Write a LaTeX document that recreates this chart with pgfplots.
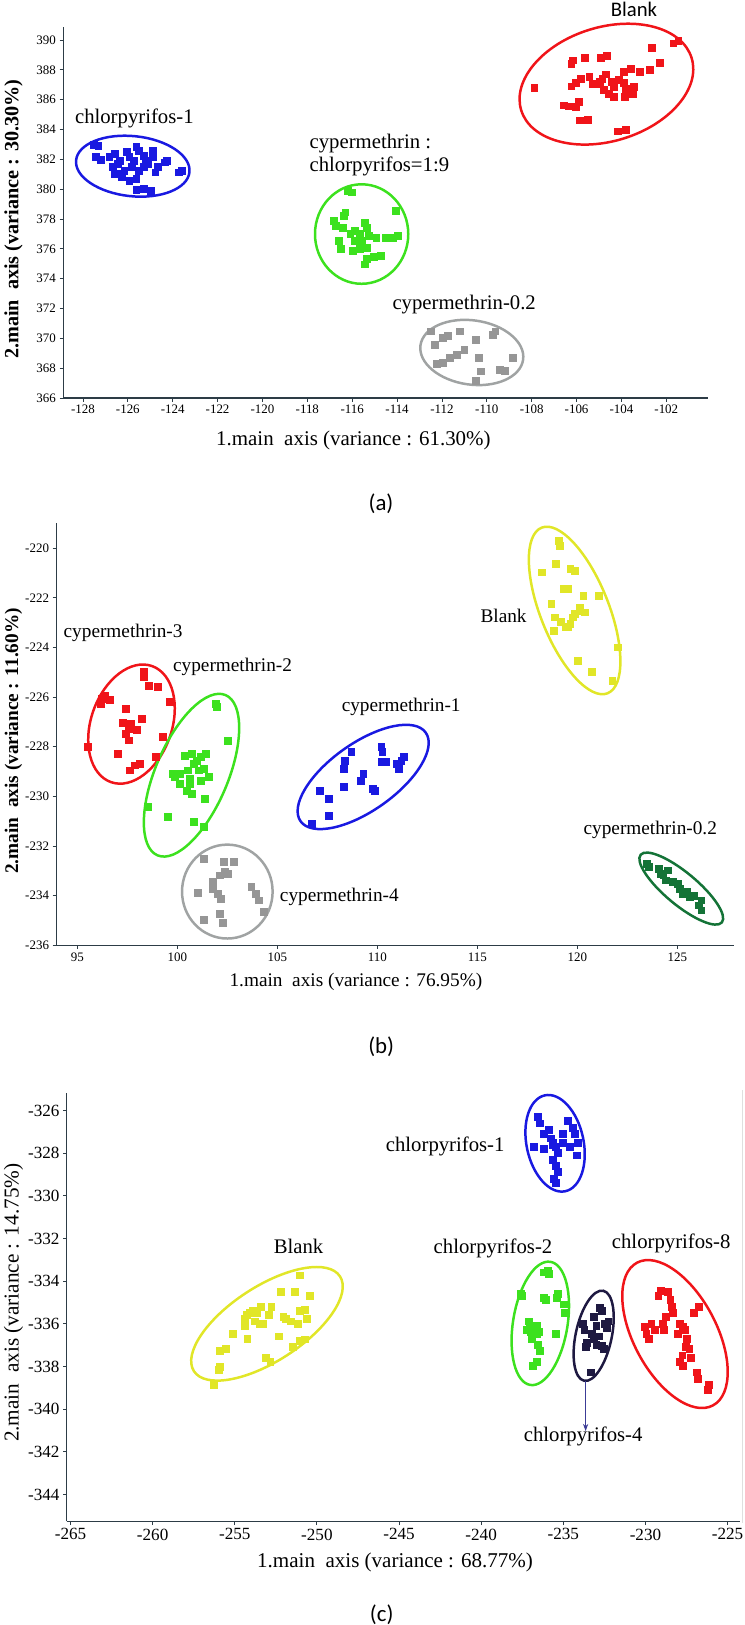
\documentclass[border=0pt]{standalone}
\usepackage{fontspec}
\setmainfont{Liberation Serif}
\newfontfamily\capfont{Carlito}
\usepackage{pgfplots}
\pgfplotsset{compat=1.18}
\usetikzlibrary{arrows.meta}

\newcommand{\fs}[1]{\fontsize{#1}{#1}\selectfont}

\definecolor{axiscol}{RGB}{45,60,70}
\definecolor{cBlue}{RGB}{25,25,225}
\definecolor{cRed}{RGB}{240,20,25}
\definecolor{cGreen}{RGB}{60,225,30}
\definecolor{cGrayPt}{RGB}{150,150,150}
\definecolor{cGrayEl}{RGB}{160,163,163}
\definecolor{cYellow}{RGB}{225,230,40}
\definecolor{cDkGreen}{RGB}{20,115,55}
\definecolor{cNavy}{RGB}{30,25,65}
\definecolor{cArrow}{RGB}{60,60,150}

\pgfplotsset{
  pcaaxis/.style={
    scale only axis,
    anchor=south west,
    axis x line=bottom, axis y line=left,
    axis line style={-, draw=axiscol, line width=1.2pt},
    tick style={draw=axiscol, line width=0.8pt},
    major tick length=3.5pt,
    tick align=outside,
    clip=false,
    /pgf/number format/assume math mode=true,
    xticklabel={\pgfmathprintnumber[assume math mode=true]{\tick}},
    yticklabel={\pgfmathprintnumber[assume math mode=true]{\tick}},
  },
  pts/.style={only marks, mark=square*, mark size=3.3pt, color=#1},
}
\tikzset{ell/.style={draw=#1, line width=2.4pt}}

\begin{document}
\begin{tikzpicture}
\useasboundingbox (0,0) rectangle (718pt,-1568pt);

% ---------------- (a) ----------------
\begin{axis}[pcaaxis, at={(61pt,-384pt)}, width=622pt, height=358pt,
  xmin=-128.88, xmax=-100.15, ymin=366, ymax=390.875,
  xtick={-128,-126,...,-102}, ytick={366,368,...,390},
  ticklabel style={font=\fs{12.5}}]
% Blank
\addplot[pts=cRed] coordinates {
 (-107.89,386.81) (-106.56,385.63) (-106.35,385.56) (-106.03,385.51) (-105.92,385.85)
 (-106.24,386.90) (-106.03,387.13) (-105.82,387.38) (-105.44,387.53) (-104.97,387.20)
 (-104.86,387.42) (-104.72,387.71) (-104.44,387.20) (-104.33,386.86) (-104.12,387.31)
 (-103.91,387.13) (-103.81,386.75) (-104.33,386.19) (-103.85,386.19) (-103.49,386.41)
 (-103.44,386.86) (-103.91,387.87) (-103.59,388.05) (-103.17,387.87) (-102.75,387.98)
 (-102.28,388.50) (-102.64,389.48) (-101.69,389.78) (-101.47,389.96) (-106.24,388.43)
 (-106.18,388.65) (-105.65,388.81) (-104.93,388.81) (-104.65,388.92) (-105.86,384.62)
 (-105.50,384.66) (-104.17,383.88) (-103.81,383.99) (-105.29,387.08) (-105.08,387.04)
 (-104.80,386.68) (-104.55,386.41)
};
% chlorpyrifos-1
\addplot[pts=cBlue] coordinates {
 (-127.53,383.00) (-127.32,382.93) (-127.43,382.15) (-127.22,381.97) (-126.58,382.37)
 (-126.47,381.70) (-126.69,381.48) (-126.37,381.03) (-126.26,380.80) (-126.05,382.49)
 (-125.94,382.15) (-125.63,382.82) (-125.52,382.60) (-125.73,381.92) (-125.84,381.48)
 (-125.52,381.25) (-125.31,381.48) (-125.10,381.70) (-124.89,382.15) (-125.31,382.26)
 (-125.20,381.92) (-124.78,381.14) (-124.36,381.81) (-124.25,381.92) (-123.72,381.14)
 (-123.61,381.25) (-125.63,379.97) (-125.31,380.02) (-124.99,379.91) (-125.94,380.58)
 (-125.63,380.69) (-126.16,381.25) (-126.58,381.03) (-124.89,382.60) (-124.67,381.48)
 (-126.83,382.15) (-126.37,381.92)
};
% cypermethrin : chlorpyrifos = 1:9
\addplot[pts=cGreen] coordinates {
 (-116.20,379.91) (-116.03,379.79) (-116.31,378.45) (-116.37,378.23) (-116.83,377.89)
 (-116.73,377.55) (-116.41,377.44) (-115.88,377.21) (-115.67,376.99) (-115.46,377.77)
 (-115.35,377.44) (-115.56,376.54) (-115.25,376.88) (-114.93,376.77) (-114.50,376.72)
 (-114.19,376.72) (-114.08,378.56) (-113.97,376.88) (-116.62,376.54) (-116.52,375.98)
 (-115.99,375.87) (-115.67,375.98) (-115.35,376.09) (-115.35,375.31) (-115.03,375.46)
 (-114.72,375.53) (-115.46,374.97) (-115.88,376.54) (-116.09,376.99)
};
% cypermethrin-0.2
\addplot[pts=cGrayPt] coordinates {
 (-112.49,370.48) (-112.34,369.59) (-111.96,370.04) (-111.75,370.15) (-111.22,370.48)
 (-110.48,369.92) (-109.74,370.26) (-109.63,370.48) (-111.01,369.25) (-111.33,368.91)
 (-111.64,368.69) (-111.96,368.35) (-110.37,368.69) (-110.27,367.79) (-110.48,367.16)
 (-109.42,367.90) (-109.21,367.84) (-108.83,368.69) (-112.22,368.29)
};
\draw[ell=cRed, rotate around={17:(axis cs:-104.67,387.04)}] (axis cs:-104.67,387.04) ellipse [x radius=86pt, y radius=55pt];
\draw[ell=cBlue, rotate around={-6:(axis cs:-125.78,381.54)}] (axis cs:-125.78,381.54) ellipse [x radius=55pt, y radius=29pt];
\draw[ell=cGreen] (axis cs:-115.58,376.99) ellipse [x radius=45pt, y radius=48pt];
\draw[ell=cGrayEl, rotate around={-8:(axis cs:-110.67,369.05)}] (axis cs:-110.67,369.05) ellipse [x radius=50pt, y radius=31pt];
\node[font=\capfont\fs{20}] at (axis cs:-103.44,392.02) {Blank};
\node[font=\fs{20}] at (axis cs:-125.71,384.73) {chlorpyrifos-1};
\node[font=\fontsize{20}{22.6}\selectfont, align=left, anchor=west] at (axis cs:-118.06,382.27) {cypermethrin :\\chlorpyrifos=1:9};
\node[font=\fs{20}] at (axis cs:-111.01,372.23) {cypermethrin-0.2};
\end{axis}
\node[rotate=90, font=\bfseries\fs{19.5}] at (13pt,-211.5pt) {2.main\ \ axis (variance : 30.30\%)};
\node[font=\fs{20.2}] at (341pt,-425pt) {1.main\ \ axis (variance : 61.30\%)};
\node[font=\capfont\fs{22}] at (367.6pt,-486pt) {(a)};

% ---------------- (b) ----------------
\begin{axis}[pcaaxis, at={(54.3pt,-912pt)}, width=654.4pt, height=407pt,
  xmin=93.95, xmax=127.85, ymin=-236, ymax=-219.0,
  xtick={95,100,...,125}, ytick={-236,-234,...,-220},
  ticklabel style={font=\fs{12.5}}]
% Blank
\addplot[pts=cYellow] coordinates {
 (119.05,-219.69) (119.10,-219.89) (118.21,-220.97) (118.93,-220.63) (119.64,-220.83)
 (119.88,-220.90) (119.29,-221.64) (119.52,-221.64) (118.69,-222.24) (118.86,-222.78)
 (118.81,-223.32) (119.17,-222.98) (119.52,-223.18) (119.64,-223.05) (119.76,-222.78)
 (119.88,-222.64) (120.12,-222.51) (120.29,-221.91) (120.36,-222.58) (121.07,-221.91)
 (120.00,-224.52) (120.71,-224.99) (121.74,-225.33) (122.02,-223.99) (119.40,-223.18)
 (120.12,-222.38)
};
% cypermethrin-3
\addplot[pts=cRed] coordinates {
 (95.52,-228.01) (96.19,-226.27) (96.24,-226.07) (96.38,-225.93) (96.62,-226.11)
 (97.43,-226.47) (97.26,-227.05) (97.43,-227.48) (97.57,-227.28) (97.67,-227.07)
 (97.98,-227.32) (98.21,-226.87) (98.33,-224.99) (98.57,-225.53) (99.00,-225.60)
 (97.02,-228.28) (97.62,-228.95) (97.86,-228.75) (98.10,-228.68) (98.93,-228.42)
 (99.29,-227.61) (99.64,-226.20) (97.57,-227.74) (98.33,-225.19)
};
% cypermethrin-2
\addplot[pts=cGreen] coordinates {
 (101.90,-226.27) (101.95,-226.40) (102.50,-227.75) (99.76,-229.09) (99.88,-229.22)
 (100.12,-229.49) (100.36,-228.35) (100.52,-228.95) (100.71,-228.28) (100.83,-228.68)
 (100.95,-228.55) (101.07,-228.95) (101.19,-228.42) (101.31,-228.89) (101.43,-228.28)
 (101.55,-229.22) (100.60,-229.49) (100.48,-229.76) (100.71,-229.89) (101.38,-230.09)
 (98.52,-230.43) (99.52,-230.83) (100.83,-231.03) (101.31,-231.23) (100.60,-229.29)
 (100.12,-229.09) (101.19,-229.36)
};
% cypermethrin-4
\addplot[pts=cGrayPt] coordinates {
 (101.31,-232.51) (102.33,-232.64) (102.81,-232.64) (102.38,-233.05) (102.10,-233.18)
 (101.79,-233.45) (101.79,-233.72) (102.02,-233.92) (102.19,-234.12) (101.00,-233.88)
 (103.69,-233.65) (103.93,-233.92) (104.05,-234.19) (104.33,-234.66) (102.14,-234.72)
 (102.26,-235.10) (101.31,-234.99) (102.50,-233.11)
};
% cypermethrin-1
\addplot[pts=cBlue] coordinates {
 (108.69,-228.21) (108.38,-228.55) (108.33,-228.89) (108.33,-229.62) (109.29,-229.09)
 (109.17,-229.36) (109.76,-229.69) (109.88,-229.76) (110.19,-228.01) (110.24,-228.21)
 (110.19,-228.62) (110.43,-228.62) (110.95,-228.68) (111.19,-228.55) (111.31,-228.42)
 (111.07,-228.89) (107.10,-229.76) (107.57,-230.09) (107.57,-230.77) (106.71,-231.10)
};
% cypermethrin-0.2
\addplot[pts=cDkGreen] coordinates {
 (123.45,-232.71) (123.57,-232.85) (124.05,-232.91) (124.17,-233.11) (124.40,-233.38)
 (124.29,-233.18) (125.00,-233.52) (125.12,-233.72) (125.48,-233.85) (125.60,-234.05)
 (125.83,-233.99) (126.07,-234.39) (126.19,-234.59) (126.19,-234.19) (125.24,-233.92)
 (124.52,-232.98) (124.76,-233.45)
};
\draw[ell=cYellow, rotate around={111.7:(axis cs:119.86,-222.51)}] (axis cs:119.86,-222.51) ellipse [x radius=86pt, y radius=33pt];
\draw[ell=cRed, rotate around={70.5:(axis cs:97.71,-227.09)}] (axis cs:97.71,-227.09) ellipse [x radius=59.4pt, y radius=39pt];
\draw[ell=cGreen, rotate around={67:(axis cs:100.71,-229.15)}] (axis cs:100.71,-229.15) ellipse [x radius=84pt, y radius=35pt];
\draw[ell=cGrayEl] (axis cs:102.5,-233.84) ellipse [x radius=43.7pt, y radius=45.3pt];
\draw[ell=cBlue, rotate around={35.3:(axis cs:109.29,-229.22)}] (axis cs:109.29,-229.22) ellipse [x radius=74pt, y radius=32.5pt];
\draw[ell=cDkGreen, rotate around={-39.8:(axis cs:125.19,-233.72)}] (axis cs:125.19,-233.72) ellipse [x radius=51pt, y radius=15.5pt];
\node[font=\fs{18.6}] at (axis cs:116.31,-222.71) {Blank};
\node[font=\fs{18.6}] at (axis cs:97.29,-223.42) {cypermethrin-3};
\node[font=\fs{18.6}] at (axis cs:102.76,-224.79) {cypermethrin-2};
\node[font=\fs{18.6}] at (axis cs:111.19,-226.40) {cypermethrin-1};
\node[font=\fs{18.6}] at (axis cs:108.10,-234.05) {cypermethrin-4};
\node[font=\fs{18.6}] at (axis cs:123.64,-231.37) {cypermethrin-0.2};
\end{axis}
\node[rotate=90, font=\bfseries\fs{18.6}] at (13pt,-715pt) {2.main\ \ axis (variance : 11.60\%)};
\node[font=\fs{18.6}] at (343.4pt,-947.5pt) {1.main\ \ axis (variance : 76.95\%)};
\node[font=\capfont\fs{22}] at (367.8pt,-1010pt) {(b)};

% ---------------- (c) ----------------
\begin{axis}[pcaaxis, at={(64.4pt,-1468pt)}, width=649.2pt, height=413pt,
  xmin=-265.23, xmax=-224.27, ymin=-345.26, ymax=-325.2,
  xtick={-265,-260,...,-225}, ytick={-344,-342,...,-326},
  ticklabel style={font=\fs{16.5}}]
% chlorpyrifos-1
\addplot[pts=cBlue] coordinates {
 (-236.55,-326.30) (-236.43,-326.60) (-236.20,-327.10) (-235.76,-327.30) (-235.62,-327.50)
 (-235.47,-327.70) (-235.33,-328.00) (-235.62,-328.29) (-235.47,-328.59) (-235.04,-327.10)
 (-234.75,-326.50) (-234.45,-326.80) (-234.31,-327.10) (-234.11,-327.50) (-234.16,-328.10)
 (-235.91,-326.90) (-235.68,-327.60) (-235.33,-328.89) (-235.56,-329.19) (-235.47,-329.39)
 (-236.78,-327.70) (-235.04,-327.50) (-236.20,-327.80) (-234.60,-327.70)
};
% Blank
\addplot[pts=cYellow] coordinates {
 (-256.27,-338.87) (-255.98,-338.17) (-255.92,-338.03) (-255.92,-337.28) (-255.55,-337.18)
 (-255.11,-336.48) (-254.38,-336.08) (-254.38,-335.78) (-254.24,-336.68) (-254.29,-335.58)
 (-254.09,-335.48) (-253.89,-335.38) (-253.65,-335.48) (-253.42,-335.18) (-253.51,-335.98)
 (-253.31,-335.98) (-252.78,-335.18) (-252.93,-335.58) (-252.20,-334.48) (-252.35,-336.58)
 (-252.05,-335.68) (-251.91,-335.78) (-251.62,-335.88) (-251.33,-334.48) (-251.18,-335.98)
 (-251.04,-335.38) (-250.75,-335.32) (-250.60,-335.78) (-250.45,-334.68) (-251.04,-333.72)
 (-253.13,-337.57) (-252.84,-337.77) (-251.47,-337.08) (-251.04,-336.78) (-250.75,-336.72)
 (-253.80,-335.88)
};
% chlorpyrifos-2
\addplot[pts=cGreen] coordinates {
 (-237.60,-334.58) (-237.51,-334.68) (-236.20,-333.58) (-235.97,-333.52) (-235.91,-333.64)
 (-236.20,-334.78) (-236.05,-334.88) (-235.33,-334.58) (-235.39,-334.78) (-234.95,-335.08)
 (-234.89,-335.48) (-237.13,-335.88) (-237.07,-336.08) (-237.01,-336.38) (-237.22,-336.28)
 (-236.64,-336.48) (-236.49,-336.38) (-236.55,-336.98) (-236.43,-337.28) (-236.64,-337.77)
 (-236.84,-337.97) (-235.47,-336.48) (-236.64,-336.08) (-236.93,-336.68)
};
% chlorpyrifos-4
\addplot[pts=cNavy] coordinates {
 (-233.81,-335.98) (-233.73,-336.28) (-233.15,-335.68) (-233.00,-336.08) (-232.77,-335.24)
 (-232.65,-335.38) (-232.48,-335.98) (-232.27,-335.88) (-233.29,-336.48) (-233.15,-336.68)
 (-232.85,-336.58) (-233.58,-336.88) (-233.64,-337.08) (-232.65,-337.04) (-232.56,-337.18)
 (-233.35,-338.27) (-233.00,-336.98) (-232.36,-336.18)
};
% chlorpyrifos-8
\addplot[pts=cRed] coordinates {
 (-230.03,-336.12) (-229.95,-336.48) (-229.80,-336.68) (-229.65,-335.98) (-229.45,-336.28)
 (-229.07,-334.44) (-229.22,-334.68) (-228.64,-334.48) (-228.49,-334.88) (-228.40,-335.18)
 (-228.35,-335.48) (-228.78,-335.68) (-228.93,-335.98) (-228.87,-336.28) (-227.91,-335.98)
 (-227.71,-336.12) (-227.47,-336.68) (-227.53,-337.08) (-227.33,-337.18) (-227.24,-337.57)
 (-227.76,-337.47) (-227.91,-337.77) (-227.71,-337.97) (-226.89,-338.27) (-226.83,-338.57)
 (-226.16,-338.87) (-226.22,-339.07) (-226.75,-335.18) (-227.04,-335.48) (-227.62,-336.28)
 (-228.05,-336.48)
};
\draw[ell=cBlue, rotate around={102:(axis cs:-235.50,-327.54)}] (axis cs:-235.50,-327.54) ellipse [x radius=47.3pt, y radius=27.5pt];
\draw[ell=cYellow, rotate around={33:(axis cs:-253.04,-336.0)}] (axis cs:-253.04,-336.0) ellipse [x radius=84pt, y radius=36pt];
\draw[ell=cGreen, rotate around={80.7:(axis cs:-236.40,-335.98)}] (axis cs:-236.40,-335.98) ellipse [x radius=60.2pt, y radius=26.3pt];
\draw[ell=cNavy, rotate around={78:(axis cs:-233.15,-336.56)}] (axis cs:-233.15,-336.56) ellipse [x radius=44.4pt, y radius=17.4pt];
\draw[ell=cRed, rotate around={118:(axis cs:-228.20,-336.48)}] (axis cs:-228.20,-336.48) ellipse [x radius=78pt, y radius=40pt];
\draw[cArrow, line width=1pt, -{Stealth[length=7pt, width=5pt]}] (axis cs:-233.64,-338.67) -- (axis cs:-233.64,-341.03);
\node[font=\fs{20}] at (axis cs:-242.19,-327.70) {chlorpyrifos-1};
\node[font=\fs{20}] at (axis cs:-251.12,-332.39) {Blank};
\node[font=\fs{20}] at (axis cs:-239.28,-332.45) {chlorpyrifos-2};
\node[font=\fs{20}] at (axis cs:-228.43,-332.25) {chlorpyrifos-8};
\node[font=\fs{20}] at (axis cs:-233.79,-341.27) {chlorpyrifos-4};
\end{axis}
\draw[gray!25, line width=0.8pt] (716pt,-1052pt) -- (716pt,-1470pt);
\node[rotate=90, font=\fs{20.5}] at (13pt,-1257pt) {2.main\ \ axis (variance : 14.75\%)};
\node[font=\fs{20.3}] at (381.2pt,-1507.5pt) {1.main\ \ axis (variance : 68.77\%)};
\node[font=\capfont\fs{22}] at (368.3pt,-1558pt) {(c)};
\end{tikzpicture}
\end{document}
